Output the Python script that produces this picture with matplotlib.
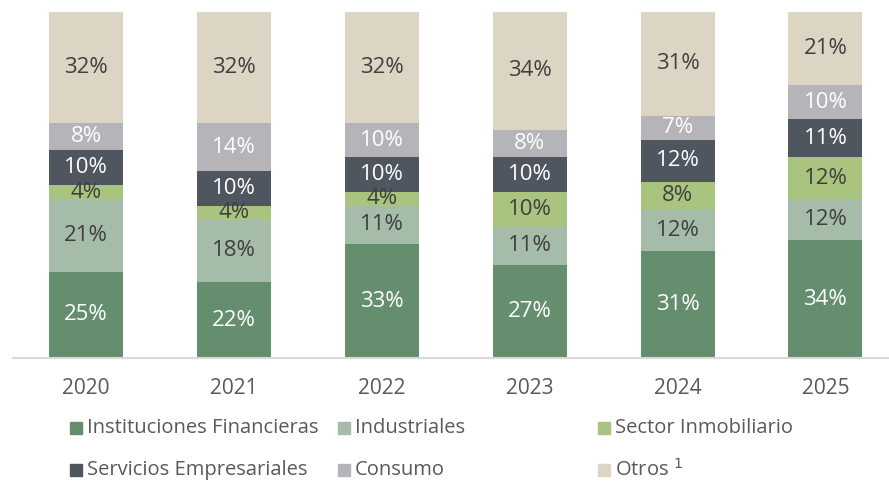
import matplotlib.pyplot as plt
from matplotlib import font_manager
from matplotlib.patches import Rectangle

names = {f.name for f in font_manager.fontManager.ttflist}
fam = 'Liberation Sans Narrow' if 'Liberation Sans Narrow' in names else 'Open Sans'
plt.rcParams['font.family'] = [fam, 'DejaVu Sans']

years = ['2020', '2021', '2022', '2023', '2024', '2025']
financieras = [25, 22, 33, 27, 31, 34]
industriales = [21, 18, 11, 11, 12, 12]
inmobiliario = [4, 4, 4, 10, 8, 12]
servicios = [10, 10, 10, 10, 12, 11]
consumo = [8, 14, 10, 8, 7, 10]
otros = [32, 32, 32, 34, 31, 21]

series = [
    ('Instituciones Financieras', financieras, '#648e6e', 'white'),
    ('Industriales', industriales, '#a5bca9', '#3f3f3f'),
    ('Sector Inmobiliario', inmobiliario, '#a8c47e', '#3f3f3f'),
    ('Servicios Empresariales', servicios, '#4f5660', 'white'),
    ('Consumo', consumo, '#b5b5b9', 'white'),
    ('Otros', otros, '#ddd5c3', '#3f3f3f'),
]

fig = plt.figure(figsize=(8.89, 4.82), dpi=100)
ax = fig.add_axes([0.0146, 0.257, 0.9854, 0.718])

x = list(range(len(years)))
bottom = [0] * len(years)
for name, vals, col, tcol in series:
    bars = ax.bar(x, vals, 0.5, bottom=bottom, color=col)
    ax.bar_label(bars, labels=[f'{v}%' for v in vals], label_type='center',
                 color=tcol, fontsize=16)
    bottom = [b + v for b, v in zip(bottom, vals)]

ax.set_xlim(-0.495, 5.43)
ax.set_ylim(0, 100)
ax.set_xticks(x)
ax.set_xticklabels(years, fontsize=15, color='#595959')
ax.tick_params(axis='x', length=0, pad=14)
ax.set_yticks([])
for s in ['top', 'left', 'right']:
    ax.spines[s].set_visible(False)
ax.spines['bottom'].set_color('#d9d9d9')
ax.spines['bottom'].set_linewidth(1.5)

# legend laid out like the Excel original (3 columns, 2 rows)
col_x = [70, 338, 598]
row_y = [428, 470]
W, H = 889, 482
for i, (name, vals, col, tcol) in enumerate(series):
    cx = col_x[i % 3]
    cy = row_y[i // 3]
    fig.patches.append(Rectangle((cx / W, 1 - (cy + 6) / H), 12 / W, 12 / H,
                                 transform=fig.transFigure, color=col))
    label = name + ' $^{1}$' if name == 'Otros' else name
    fig.text((cx + 17) / W, 1 - cy / H, label, fontsize=14.5, color='#595959',
             va='center', ha='left')

fig.savefig('out.png', dpi=100)
